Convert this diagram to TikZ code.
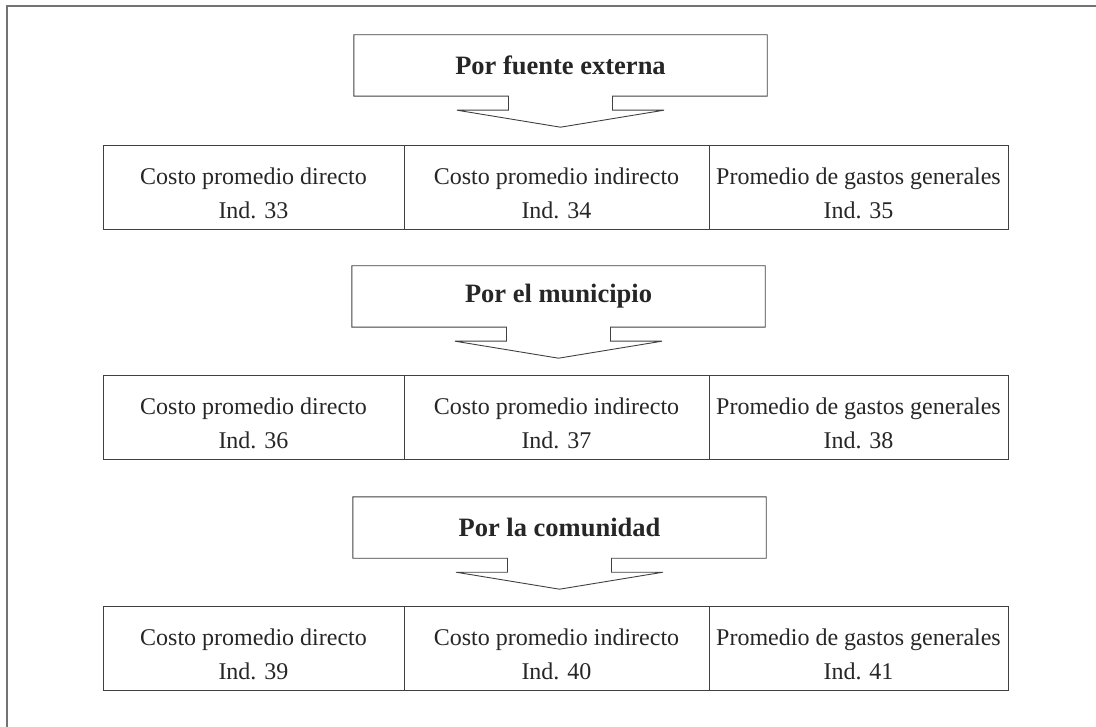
\documentclass[tikz,border=0pt]{standalone}
\usepackage{fontspec}
\setmainfont{Liberation Serif}
\usetikzlibrary{calc}
\tikzset{
  outline/.style={draw=black!75, line width=0.9pt},
  cell/.style={outline, minimum height=84pt, inner sep=0pt, align=center,
    font=\fontsize{24}{34}\selectfont, text=black!85},
  title/.style={minimum width=413pt, minimum height=61pt, inner sep=0pt,
    font=\bfseries\fontsize{26.5}{30}\selectfont, text=black!85},
  frameline/.style={draw=black!55, line width=2pt},
  colA/.style={cell, minimum width=301pt},
  colB/.style={cell, minimum width=305pt},
  colC/.style={cell, minimum width=299pt}
}
\newcommand{\cellstrut}{\rule{0pt}{30pt}}
\begin{document}
\begin{tikzpicture}[x=1pt,y=-1pt]
\useasboundingbox (0,0) rectangle (1096,727);
% outer frame (left and top edges)
\coordinate (fb) at (6.5,727);
\coordinate (ft) at (6.5,6.5);
\coordinate (fr) at (1096,6.5);
\draw[frameline] (fb) -- (ft) -- (fr);

% titles
\node[title] (c1) at (560.5,65.5) {Por fuente externa};
\node[title] (c2) at (558.5,296.5) {Por el municipio};
\node[title] (c3) at (559.5,527.5) {Por la comunidad};

\foreach \c in {c1,c2,c3} {
  \draw[outline] ($(\c.south)+(-52,0)$) -- (\c.south west) -- (\c.north west)
    -- (\c.north east) -- (\c.south east) -- ($(\c.south)+(52,0)$)
    -- ($(\c.south)+(52,14)$) -- ($(\c.south)+(103.5,14)$)
    -- ($(\c.south)+(0,31)$) -- ($(\c.south)+(-103.5,14)$)
    -- ($(\c.south)+(-52,14)$) -- cycle;
}

% row 1
\node[colA] (r1a) at (253.5,187) {\cellstrut Costo promedio directo\\Ind. 33};
\node[colB] (r1b) at (556.5,187) {\cellstrut Costo promedio indirecto\\Ind. 34};
\node[colC] (r1c) at (858.5,187) {\cellstrut Promedio de gastos generales\\Ind. 35};
% row 2
\node[colA] (r2a) at (253.5,417) {\cellstrut Costo promedio directo\\Ind. 36};
\node[colB] (r2b) at (556.5,417) {\cellstrut Costo promedio indirecto\\Ind. 37};
\node[colC] (r2c) at (858.5,417) {\cellstrut Promedio de gastos generales\\Ind. 38};
% row 3
\node[colA] (r3a) at (253.5,648) {\cellstrut Costo promedio directo\\Ind. 39};
\node[colB] (r3b) at (556.5,648) {\cellstrut Costo promedio indirecto\\Ind. 40};
\node[colC] (r3c) at (858.5,648) {\cellstrut Promedio de gastos generales\\Ind. 41};
\end{tikzpicture}
\end{document}
